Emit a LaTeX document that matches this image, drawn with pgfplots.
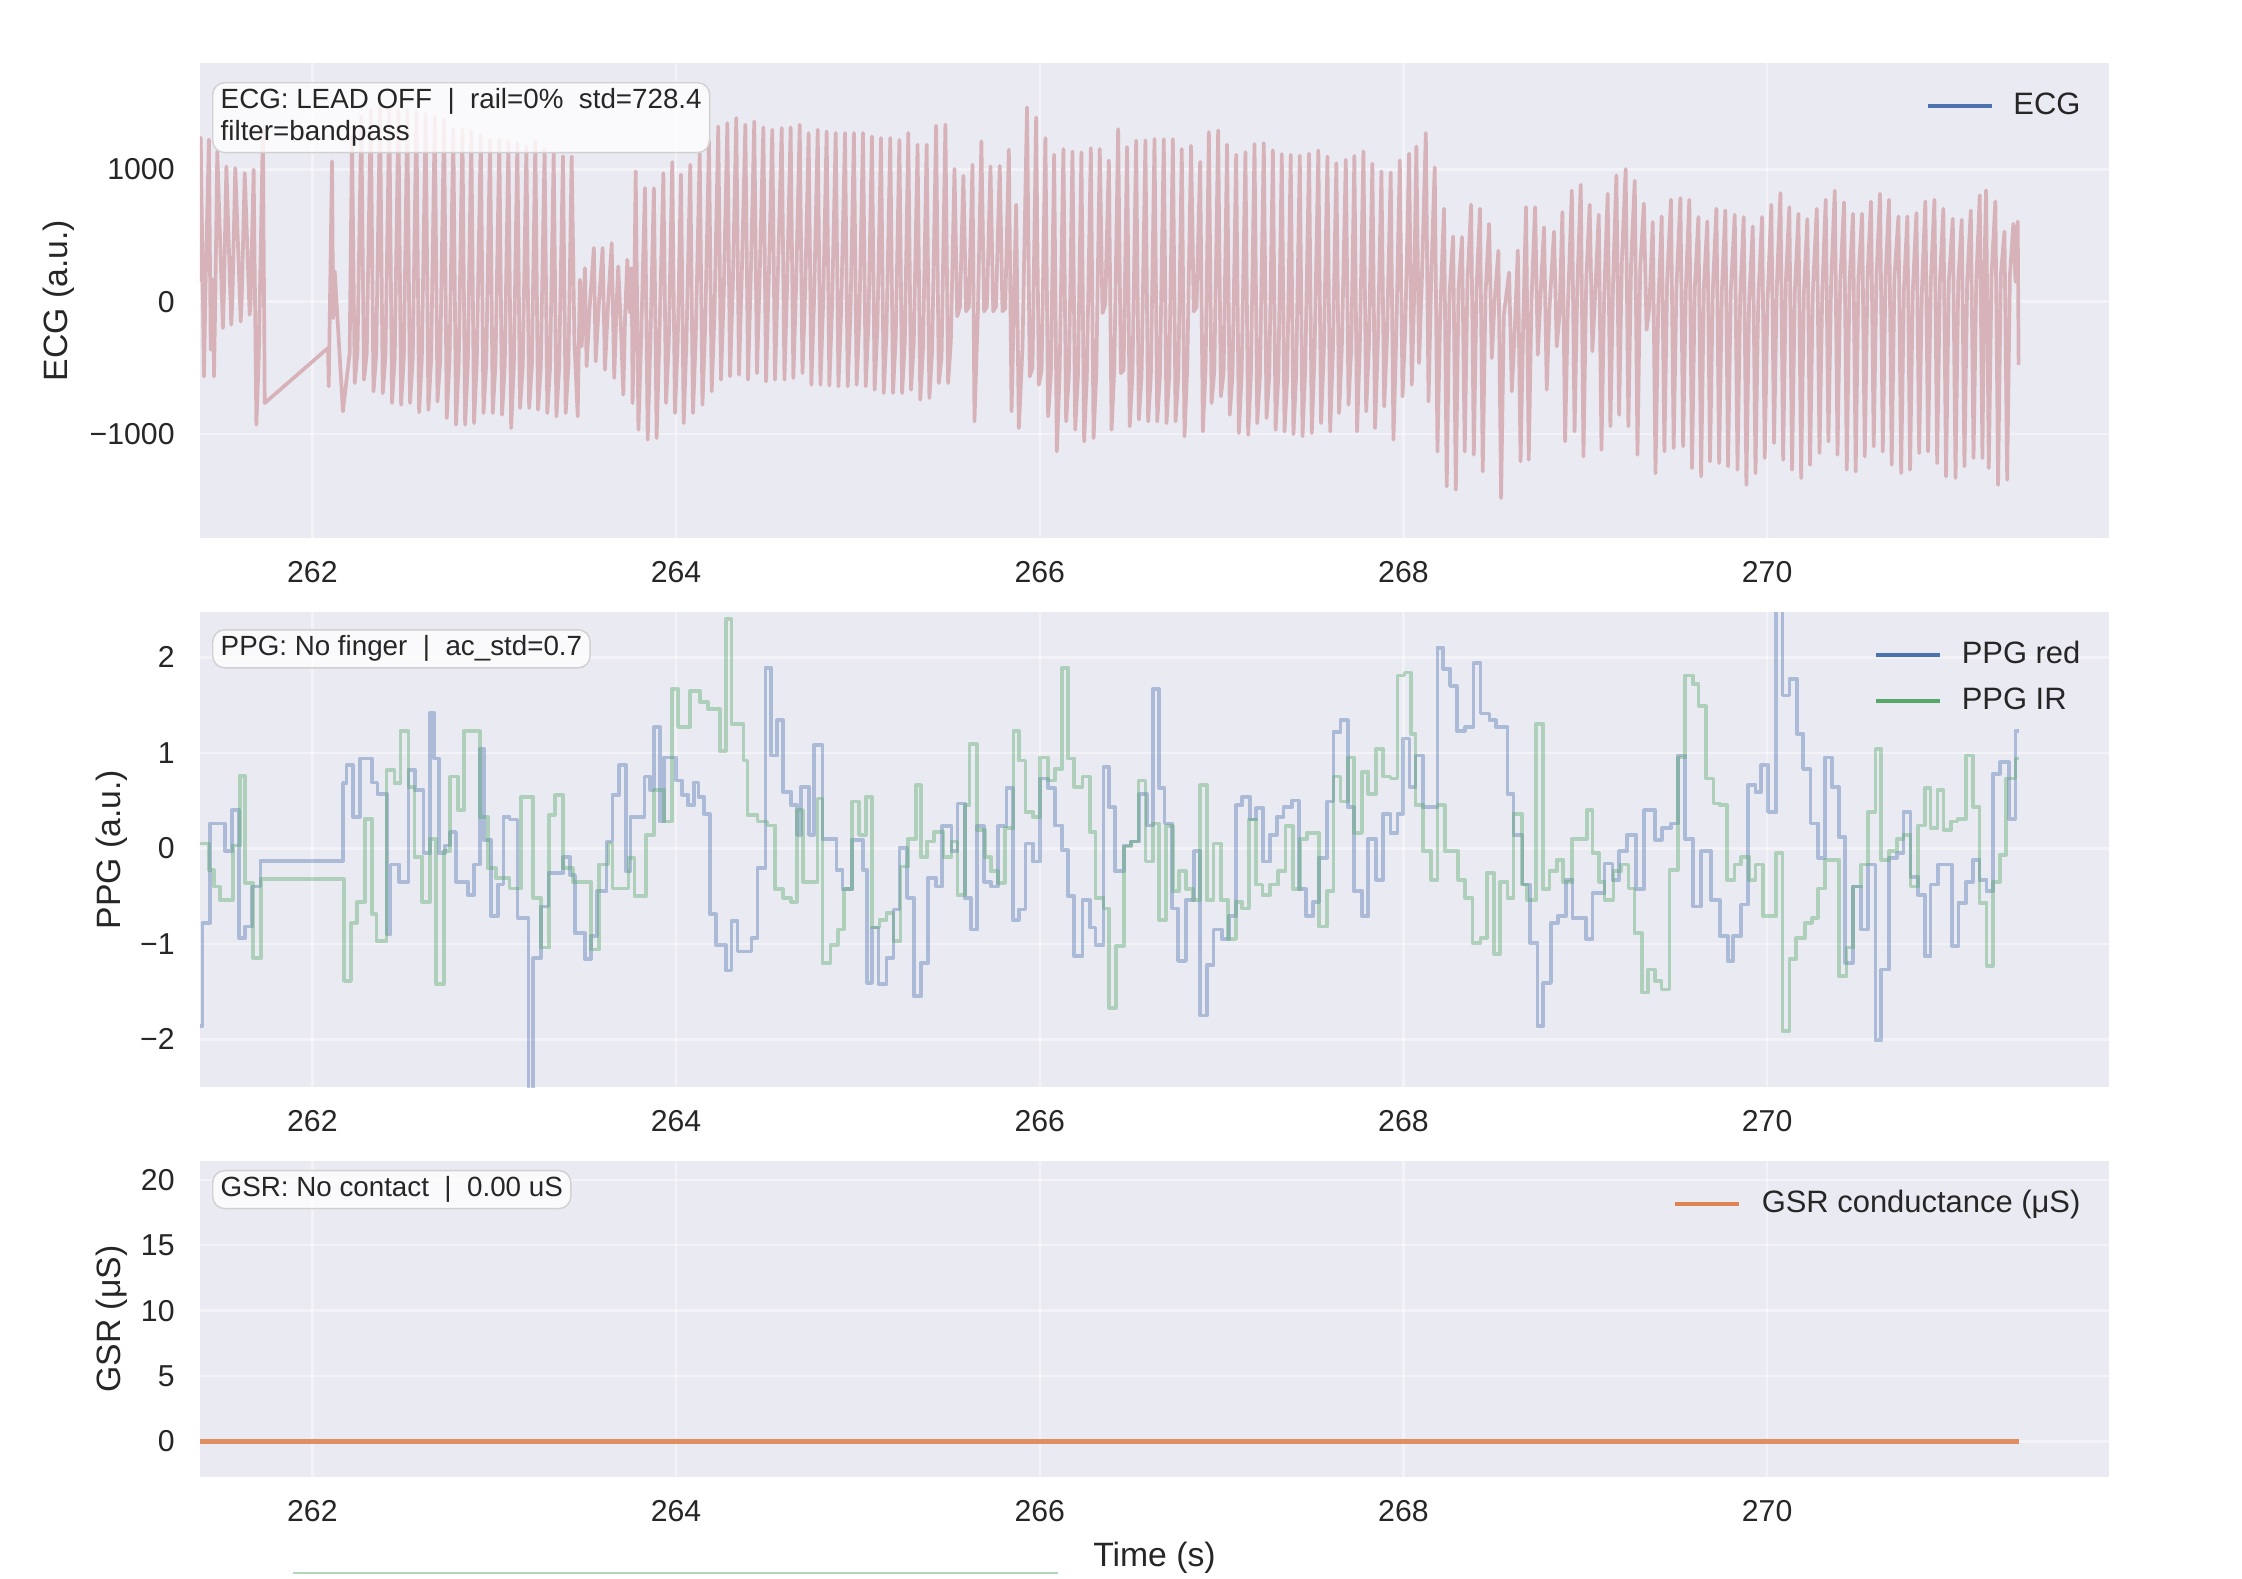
\documentclass[border=0pt]{standalone}
\usepackage{fontspec}
\setmainfont{Liberation Sans}
\usepackage{pgfplots}
\pgfplotsset{compat=1.18}
\definecolor{bgc}{HTML}{EAEAF2}
\definecolor{txt}{HTML}{262626}
\definecolor{sbblue}{HTML}{4C72B0}
\definecolor{sbgreen}{HTML}{55A868}
\definecolor{sborange}{HTML}{DD8452}
\definecolor{ecgc}{HTML}{D7B2B9}
\newcommand\tickfont{\fontsize{8.6}{10}\selectfont}
\newcommand\labfont{\fontsize{9.6}{11}\selectfont}
\newcommand\boxfont{\fontsize{7.9}{9.1}\selectfont}
\newcommand\legfont{\fontsize{8.8}{10}\selectfont}
\pgfplotsset{
 sbstyle/.style={
  scale only axis, width=19.09cm, anchor=south west,
  xmin=261.382, xmax=271.88,
  axis background/.style={fill=bgc},
  axis line style={draw=none},
  tick style={draw=none},
  major tick length=0pt,
  grid=major,
  major grid style={white, line width=0.7pt, opacity=0.45},
  xtick={262,264,266,268,270},
  xticklabels={262,264,266,268,270},
  xticklabel style={font=\tickfont, text=txt, yshift=-1.1mm},
  yticklabel style={font=\tickfont, text=txt, xshift=-1.3mm},
  label style={font=\labfont, text=txt},
  legend style={draw=none, fill=none, font=\legfont, text=txt, inner sep=0pt, column sep=1.5mm, row sep=0.7mm,
     nodes={inner sep=0.5mm, text height=2.3mm, text depth=0.6mm}},
  legend cell align=left,
  legend image code/.code={\draw[#1] (0mm,0mm) -- (6.4mm,0mm);},
 },
}
\tikzset{
 boxnode/.style={anchor=north west, fill=white, fill opacity=0.8, text opacity=1, draw=black!18,
   rounded corners=1.2mm, inner xsep=0.8mm, inner ysep=0.6mm, font=\boxfont, text=txt, align=left},
}
\begin{document}
\begin{tikzpicture}
\path[use as bounding box] (0,0) rectangle (22.42cm,-15.78cm);
% ---------------- ECG ----------------
\begin{axis}[sbstyle, at={(2cm,-5.38cm)}, height=4.75cm,
  ymin=-1786, ymax=1804,
  ytick={-1000,0,1000}, yticklabels={−1000,0,1000},
  ylabel={ECG (a.u.)}, ylabel style={at={(rel axis cs:-0.0739,0.5)}, anchor=center},
  legend style={at={(rel axis cs:0.988,0.952)}, anchor=north east}]
\addplot[ecgc, line width=1.05pt, line join=round, forget plot] coordinates {
(261.382,150) (261.386,1240) (261.404,-565) (261.412,80)
(261.431,1225) (261.441,-363) (261.454,170) (261.459,-565) (261.467,100)
(261.477,1136) (261.508,-200) (261.513,30)
(261.527,1023) (261.554,-174) (261.560,20)
(261.576,1010) (261.606,-149) (261.611,0)
(261.628,972) (261.655,-99) (261.660,-20)
(261.677,998) (261.692,-930) (261.705,-426)
(261.728,1300) (261.738,-766)
(262.086,-350) (262.090,-640) (262.108,1061) (262.114,-124) (262.123,229) (262.168,-829) (262.205,-388)
(262.218,1250) (262.233,-615) (262.248,-380)
(262.269,1400) (262.284,-590) (262.299,-390)
(262.321,1450) (262.336,-678) (262.351,-400)
(262.372,1470) (262.387,-691) (262.402,-410)
(262.423,1460) (262.438,-766) (262.453,-420)
(262.473,1450) (262.488,-779) (262.503,-420)
(262.522,1450) (262.537,-766) (262.552,-430)
(262.572,1440) (262.587,-837) (262.602,-430)
(262.623,1420) (262.638,-817) (262.653,-440)
(262.673,1400) (262.688,-754) (262.703,-440)
(262.724,1380) (262.739,-880) (262.754,-450)
(262.775,1310) (262.790,-930) (262.805,-450)
(262.825,1300) (262.840,-930) (262.855,-460)
(262.874,1290) (262.889,-918) (262.904,-460)
(262.926,1260) (262.941,-842) (262.956,-470)
(262.977,1225) (262.992,-842) (263.007,-470)
(263.028,1225) (263.043,-855) (263.058,-480)
(263.078,1210) (263.093,-955) (263.108,-480)
(263.127,1200) (263.142,-804) (263.157,-490)
(263.177,1175) (263.192,-804) (263.207,-490)
(263.226,1210) (263.241,-817) (263.256,-500)
(263.277,1150) (263.292,-842) (263.307,-500)
(263.327,1125) (263.342,-867) (263.357,-500)
(263.378,1100) (263.393,-842) (263.408,-480)
(263.426,1098) (263.441,-300) (263.459,-867)
(263.471,166) (263.481,-338) (263.490,-20)
(263.499,254) (263.508,-489) (263.525,-40)
(263.548,406) (263.558,-451) (263.575,-30)
(263.596,406) (263.609,-514) (263.625,-50)
(263.646,443) (263.660,-577) (263.672,-60)
(263.682,267) (263.697,-200) (263.710,-703) (263.720,-100)
(263.732,317) (263.745,-80)
(263.756,254) (263.761,-766) (263.768,-200)
(263.778,985) (263.793,-968) (263.808,-280)
(263.829,859) (263.844,-1044) (263.859,-280)
(263.878,859) (263.893,-1031) (263.908,-290)
(263.930,972) (263.945,-766) (263.960,-300)
(263.979,1056) (263.994,-842) (264.009,-300)
(264.027,962) (264.042,-918) (264.057,-300)
(264.078,1035) (264.093,-842) (264.108,-280)
(264.130,1119) (264.145,-779) (264.160,-200)
(264.181,1212) (264.196,-678) (264.211,-100)
(264.232,1325) (264.247,-590) (264.262,50)
(264.282,1350) (264.297,-565) (264.312,120)
(264.331,1388) (264.346,-552) (264.361,180)
(264.381,1338) (264.396,-590) (264.411,200)
(264.430,1363) (264.445,-540) (264.460,200)
(264.480,1318) (264.495,-603) (264.510,180)
(264.529,1300) (264.544,-590) (264.559,160)
(264.581,1313) (264.596,-590) (264.611,150)
(264.630,1318) (264.645,-577) (264.660,120)
(264.680,1338) (264.695,-540) (264.710,80)
(264.729,1275) (264.744,-628) (264.759,20)
(264.779,1300) (264.794,-628) (264.809,0)
(264.828,1287) (264.843,-635) (264.858,-30)
(264.878,1275) (264.893,-640) (264.908,-60)
(264.929,1275) (264.944,-640) (264.959,-100)
(264.978,1275) (264.993,-628) (265.008,-130)
(265.028,1275) (265.043,-640) (265.058,-160)
(265.077,1250) (265.092,-666) (265.107,-200)
(265.127,1237) (265.142,-691) (265.157,-240)
(265.178,1237) (265.193,-691) (265.208,-270)
(265.228,1224) (265.243,-691) (265.258,-300)
(265.277,1275) (265.292,-666) (265.307,-320)
(265.328,1187) (265.343,-741) (265.358,-350)
(265.378,1187) (265.393,-728) (265.408,-380)
(265.430,1330) (265.445,-615) (265.460,-420)
(265.481,1338) (265.496,-615) (265.511,-300)
(265.531,1003) (265.546,-111) (265.561,-40)
(265.580,952) (265.595,-73) (265.610,-40)
(265.630,1035) (265.641,-905) (265.660,-60)
(265.679,1212) (265.694,-73) (265.709,-40)
(265.729,1023) (265.744,-73) (265.759,-40)
(265.780,1028) (265.795,-73) (265.810,-50)
(265.830,1149) (265.845,-829) (265.855,-200)
(265.870,733) (265.885,-955) (265.905,-350)
(265.930,1469) (265.945,-565) (265.960,-500)
(265.980,1393) (265.995,-628) (266.010,-520)
(266.031,1237) (266.046,-867) (266.061,-540)
(266.079,1111) (266.094,-1132) (266.109,-550)
(266.130,1154) (266.145,-905) (266.160,-560)
(266.180,1136) (266.195,-968) (266.210,-560)
(266.229,1129) (266.244,-1056) (266.259,-560)
(266.281,1161) (266.296,-1031) (266.311,-540)
(266.330,1154) (266.345,-86) (266.360,-20)
(266.380,1068) (266.395,-968) (266.410,-500)
(266.431,1305) (266.446,-540) (266.461,-520)
(266.480,1169) (266.495,-943) (266.510,-540)
(266.530,1217) (266.545,-892) (266.560,-550)
(266.581,1219) (266.596,-905) (266.611,-560)
(266.631,1229) (266.646,-905) (266.661,-560)
(266.682,1229) (266.697,-918) (266.712,-560)
(266.732,1229) (266.747,-905) (266.762,-560)
(266.781,1154) (266.796,-1018) (266.811,-500)
(266.832,1179) (266.847,-73) (266.862,-40)
(266.882,1058) (266.897,-981) (266.912,-500)
(266.930,1282) (266.945,-766) (266.960,-520)
(266.981,1295) (266.996,-716) (267.011,-540)
(267.030,1187) (267.045,-855) (267.060,-550)
(267.080,1111) (267.095,-993) (267.110,-560)
(267.131,1131) (267.146,-1006) (267.161,-560)
(267.181,1192) (267.196,-918) (267.211,-560)
(267.232,1199) (267.247,-880) (267.262,-560)
(267.282,1144) (267.297,-968) (267.312,-560)
(267.331,1116) (267.346,-981) (267.361,-560)
(267.380,1111) (267.395,-1001) (267.410,-550)
(267.430,1103) (267.445,-1018) (267.460,-500)
(267.481,1119) (267.496,-993) (267.511,-400)
(267.532,1144) (267.547,-918) (267.562,-380)
(267.582,1098) (267.597,-981) (267.612,-380)
(267.631,1048) (267.646,-842) (267.661,-360)
(267.683,1073) (267.698,-779) (267.713,-350)
(267.730,1103) (267.745,-981) (267.760,-340)
(267.780,1136) (267.795,-829) (267.810,-330)
(267.829,1043) (267.844,-955) (267.859,-320)
(267.879,985) (267.894,-792) (267.909,-300)
(267.930,977) (267.945,-1044) (267.960,-280)
(267.980,1068) (267.995,-716) (268.010,-200)
(268.031,1119) (268.046,-628) (268.058,0)
(268.071,1174) (268.086,-464) (268.101,150)
(268.123,1275) (268.138,-754) (268.153,200)
(268.172,1015) (268.187,-1132) (268.202,-100)
(268.223,703) (268.238,-1396) (268.253,50)
(268.273,494) (268.288,-1422) (268.303,100)
(268.322,489) (268.337,-1132) (268.352,150)
(268.372,733) (268.387,-1157) (268.402,100)
(268.421,703) (268.436,-1283) (268.451,50)
(268.471,589) (268.486,-426) (268.501,0)
(268.522,385) (268.537,-1485) (268.552,-100)
(268.581,221) (268.596,-678) (268.611,-250)
(268.629,388) (268.644,-1207) (268.659,-150)
(268.674,715) (268.689,-1195) (268.704,0)
(268.724,715) (268.739,-401) (268.754,50)
(268.773,562) (268.788,-666) (268.803,-50)
(268.828,531) (268.843,-338) (268.858,-100)
(268.874,678) (268.889,-1056) (268.904,-50)
(268.926,839) (268.941,-981) (268.956,100)
(268.975,884) (268.990,-1170) (269.005,150)
(269.024,733) (269.039,-376) (269.054,50)
(269.074,657) (269.089,-1119) (269.104,50)
(269.123,816) (269.138,-943) (269.153,150)
(269.171,955) (269.186,-855) (269.201,300)
(269.222,1003) (269.237,-943) (269.252,300)
(269.272,914) (269.287,-1157) (269.302,250)
(269.322,741) (269.337,-212) (269.352,-50)
(269.371,602) (269.386,-1296) (269.401,-50)
(269.420,645) (269.435,-1132) (269.450,150)
(269.471,771) (269.486,-1107) (269.501,100)
(269.523,783) (269.538,-1094) (269.553,100)
(269.572,771) (269.587,-1258) (269.602,100)
(269.622,640) (269.637,-1321) (269.652,100)
(269.671,607) (269.686,-1207) (269.701,80)
(269.721,703) (269.736,-1220) (269.751,80)
(269.770,690) (269.785,-1245) (269.800,80)
(269.822,657) (269.837,-1270) (269.852,40)
(269.871,640) (269.886,-1384) (269.901,0)
(269.921,569) (269.936,-1296) (269.951,0)
(269.972,640) (269.987,-1182) (270.002,0)
(270.023,733) (270.038,-1069) (270.053,100)
(270.073,821) (270.088,-1195) (270.103,150)
(270.122,715) (270.137,-1270) (270.152,60)
(270.172,665) (270.187,-1333) (270.202,60)
(270.221,625) (270.236,-1233) (270.251,60)
(270.273,703) (270.288,-1144) (270.303,60)
(270.322,771) (270.337,-1056) (270.352,150)
(270.372,839) (270.387,-1157) (270.402,150)
(270.423,751) (270.438,-1270) (270.453,150)
(270.472,665) (270.487,-1283) (270.502,180)
(270.522,665) (270.537,-1170) (270.552,180)
(270.571,758) (270.586,-1094) (270.601,180)
(270.621,816) (270.636,-1132) (270.651,180)
(270.670,771) (270.685,-1233) (270.700,180)
(270.722,645) (270.737,-1296) (270.752,80)
(270.771,645) (270.786,-1270) (270.801,80)
(270.821,670) (270.836,-1144) (270.851,80)
(270.870,758) (270.885,-1132) (270.900,150)
(270.920,771) (270.935,-1220) (270.950,150)
(270.969,703) (270.984,-1321) (270.999,150)
(271.021,627) (271.036,-1333) (271.051,150)
(271.070,620) (271.085,-1245) (271.100,150)
(271.120,690) (271.135,-1182) (271.150,150)
(271.169,804) (271.184,-1182) (271.194,200)
(271.204,841) (271.219,-1258) (271.234,200)
(271.255,758) (271.270,-1384) (271.285,200)
(271.305,531) (271.320,-1346) (271.335,200)
(271.354,589) (271.366,150) (271.378,607) (271.383,-477)
};
\addlegendimage{sbblue, line width=1.05pt}
\addlegendentry{ECG}
\node[boxnode] at (rel axis cs:0.0063,0.96) {ECG: LEAD OFF\ \ |\ \ rail=0\%\ \ std=728.4\\filter=bandpass};
\end{axis}
% ---------------- PPG ----------------
\begin{axis}[sbstyle, at={(2cm,-10.87cm)}, height=4.75cm,
  ymin=-2.5, ymax=2.474,
  ytick={-2,-1,0,1,2}, yticklabels={−2,−1,0,1,2},
  ylabel={PPG (a.u.)}, ylabel style={at={(rel axis cs:-0.0461,0.5)}, anchor=center},
  legend style={at={(rel axis cs:0.988,0.952)}, anchor=north east}]
\addplot[const plot, sbblue, draw opacity=0.4, line width=1.05pt, line join=round, forget plot] coordinates {
(261.382,-1.86) (261.396,-0.78) (261.437,0.26) (261.518,-0.03) (261.557,0.40) (261.597,-0.94) (261.631,-0.82) (261.668,-0.40) (261.714,-0.13) (262.168,0.68) (262.188,0.87) (262.222,0.33) (262.262,0.94) (262.327,0.69) (262.358,0.57) (262.412,-0.90) (262.430,-0.17) (262.478,-0.35) (262.528,0.82) (262.565,0.61) (262.611,-0.05) (262.648,1.42) (262.670,0.94) (262.696,-0.05) (262.728,0.03) (262.757,0.17) (262.790,-0.35) (262.855,-0.49) (262.888,-0.17) (262.920,1.04) (262.942,0.09) (262.981,-0.71) (263.019,-0.38) (263.051,0.33) (263.084,0.30) (263.128,-0.73) (263.189,-2.70) (263.215,-1.15) (263.258,-0.61) (263.298,-0.26) (263.378,-0.09) (263.418,-0.28) (263.444,-0.89) (263.498,-1.16) (263.531,-0.92) (263.564,-0.45) (263.618,0.07) (263.651,0.56) (263.688,0.87) (263.723,-0.24) (263.749,0.33) (263.826,0.75) (263.858,0.61) (263.880,1.27) (263.913,0.28) (263.935,0.95) (264.000,0.71) (264.033,0.56) (264.065,0.45) (264.098,0.69) (264.124,0.54) (264.153,0.36) (264.185,-0.69) (264.218,-1.01) (264.273,-1.28) (264.305,-0.76) (264.338,-1.08) (264.414,-0.94) (264.447,-0.21) (264.491,1.89) (264.523,0.97) (264.556,1.34) (264.589,0.59) (264.632,0.45) (264.665,0.14) (264.687,0.64) (264.731,0.14) (264.757,1.08) (264.805,0.10) (264.883,-0.23) (264.916,-0.43) (264.966,0.09) (265.028,-0.23) (265.051,-1.41) (265.077,-0.83) (265.113,-1.42) (265.158,-1.15) (265.196,-0.64) (265.229,0.00) (265.270,-0.52) (265.308,-1.55) (265.346,-1.20) (265.386,-0.31) (265.430,-0.40) (265.464,0.23) (265.515,-0.03) (265.547,0.47) (265.587,-0.52) (265.620,-0.85) (265.654,0.23) (265.694,-0.35) (265.732,-0.40) (265.770,0.23) (265.817,0.63) (265.851,-0.75) (265.884,-0.64) (265.922,0.05) (265.962,-0.14) (266.000,0.73) (266.045,0.63) (266.083,0.24) (266.123,-0.02) (266.156,-0.50) (266.190,-1.13) (266.235,-0.54) (266.275,-0.83) (266.306,-1.01) (266.351,0.85) (266.380,0.43) (266.413,-0.24) (266.465,0.03) (266.503,0.07) (266.547,0.57) (266.588,0.24) (266.621,1.67) (266.655,0.63) (266.686,0.26) (266.726,-0.63) (266.760,-1.18) (266.804,-0.54) (266.849,-0.03) (266.883,-1.75) (266.918,-1.22) (266.956,-0.85) (267.001,-0.95) (267.039,-0.71) (267.079,0.45) (267.113,0.54) (267.158,0.30) (267.191,0.42) (267.229,-0.14) (267.267,0.14) (267.303,0.33) (267.341,0.43) (267.386,0.50) (267.424,-0.43) (267.464,-0.71) (267.504,-0.56) (267.535,-0.10) (267.580,0.49) (267.616,1.22) (267.654,1.34) (267.694,0.43) (267.727,-0.45) (267.772,-0.71) (267.806,0.10) (267.850,-0.33) (267.888,0.36) (267.929,0.16) (267.967,0.36) (267.996,1.15) (268.034,0.64) (268.067,0.97) (268.107,0.43) (268.187,2.10) (268.219,1.88) (268.256,1.70) (268.293,1.23) (268.338,1.27) (268.385,1.94) (268.424,1.41) (268.473,1.34) (268.508,1.27) (268.572,0.57) (268.606,0.14) (268.655,-0.38) (268.695,-0.99) (268.737,-1.86) (268.769,-1.41) (268.811,-0.78) (268.848,-0.71) (268.892,-0.33) (268.929,-0.73) (269.003,-0.95) (269.040,-0.47) (269.106,-0.16) (269.150,-0.33) (269.187,-0.03) (269.229,0.14) (269.279,-0.43) (269.323,0.40) (269.384,0.09) (269.421,0.21) (269.471,0.26) (269.508,0.97) (269.550,0.10) (269.591,-0.61) (269.636,-0.03) (269.692,-0.54) (269.739,-0.92) (269.784,-1.18) (269.813,-0.92) (269.857,-0.59) (269.894,0.66) (269.936,0.59) (269.968,0.87) (270.005,0.38) (270.050,2.60) (270.084,1.60) (270.123,1.77) (270.165,1.20) (270.197,0.83) (270.239,0.26) (270.281,-0.10) (270.320,0.95) (270.355,0.64) (270.394,0.12) (270.429,-1.20) (270.473,-0.40) (270.517,-0.85) (270.554,-0.17) (270.596,-2.01) (270.628,-1.27) (270.670,-0.10) (270.714,-0.05) (270.749,0.38) (270.788,-0.30) (270.830,-0.49) (270.867,-1.13) (270.899,-0.38) (270.941,-0.17) (271.015,-1.02) (271.052,-0.57) (271.094,-0.35) (271.133,-0.12) (271.168,-0.33) (271.207,-0.45) (271.242,0.78) (271.281,0.90) (271.330,0.31) (271.365,1.23) (271.384,1.23)
};
\addplot[const plot, sbgreen, draw opacity=0.4, line width=1.05pt, line join=round, forget plot] coordinates {
(261.382,0.05) (261.433,-0.23) (261.459,-0.40) (261.492,-0.54) (261.564,0.03) (261.601,0.76) (261.629,-0.36) (261.673,-1.15) (261.716,-0.32) (262.174,-1.39) (262.212,-0.78) (262.244,-0.56) (262.288,0.31) (262.327,-0.69) (262.353,-0.97) (262.408,0.82) (262.451,0.68) (262.484,1.23) (262.528,0.64) (262.561,-0.09) (262.604,-0.56) (262.648,0.10) (262.680,-1.42) (262.724,-0.03) (262.757,0.75) (262.800,0.40) (262.833,1.23) (262.920,0.33) (262.964,-0.21) (263.008,-0.31) (263.084,-0.42) (263.149,0.54) (263.215,-0.52) (263.258,-1.04) (263.302,0.35) (263.335,0.56) (263.378,-0.21) (263.433,-0.35) (263.531,-1.06) (263.575,-0.17) (263.629,0.05) (263.651,-0.42) (263.738,-0.10) (263.771,-0.50) (263.836,0.14) (263.880,0.61) (263.935,0.28) (263.978,1.67) (264.011,1.27) (264.076,1.65) (264.131,1.53) (264.174,1.46) (264.240,1.02) (264.273,2.40) (264.305,1.30) (264.371,0.92) (264.393,0.35) (264.447,0.28) (264.502,0.24) (264.545,-0.43) (264.589,-0.52) (264.632,-0.56) (264.665,0.40) (264.698,-0.35) (264.778,0.52) (264.805,-1.20) (264.849,-1.01) (264.890,-0.85) (264.923,-0.43) (264.966,0.49) (265.006,0.14) (265.046,0.54) (265.077,-0.83) (265.118,-0.75) (265.158,-0.68) (265.196,-0.97) (265.234,-0.19) (265.274,0.10) (265.319,0.66) (265.346,-0.09) (265.381,0.07) (265.419,0.17) (265.471,-0.09) (265.515,0.07) (265.547,-0.49) (265.587,0.45) (265.614,1.09) (265.654,0.19) (265.699,-0.09) (265.732,-0.24) (265.770,-0.36) (265.810,0.21) (265.855,1.23) (265.884,0.92) (265.922,0.38) (265.962,0.33) (266.000,0.95) (266.045,0.71) (266.083,0.83) (266.123,1.89) (266.156,0.94) (266.190,0.64) (266.235,0.75) (266.275,0.17) (266.306,-0.52) (266.351,-0.63) (266.380,-1.67) (266.420,-1.02) (266.465,0.02) (266.503,0.07) (266.543,0.71) (266.581,-0.14) (266.621,0.26) (266.655,-0.75) (266.693,0.23) (266.731,-0.45) (266.767,-0.24) (266.804,-0.43) (266.843,-0.54) (266.883,0.66) (266.918,-0.54) (266.956,0.05) (266.995,-0.54) (267.035,-0.95) (267.079,-0.56) (267.113,-0.63) (267.151,0.30) (267.191,-0.38) (267.225,-0.49) (267.267,-0.38) (267.312,-0.24) (267.352,0.23) (267.392,-0.43) (267.430,0.10) (267.468,0.16) (267.535,-0.82) (267.580,-0.45) (267.616,0.75) (267.654,0.49) (267.694,0.95) (267.727,0.16) (267.772,0.80) (267.806,0.57) (267.850,1.04) (267.888,0.75) (267.929,0.73) (267.967,1.81) (268.005,1.84) (268.041,1.20) (268.067,0.45) (268.107,-0.03) (268.152,-0.33) (268.187,0.45) (268.227,-0.03) (268.301,-0.33) (268.338,-0.52) (268.380,-0.99) (268.424,-0.94) (268.458,-0.26) (268.498,-1.11) (268.532,-0.35) (268.572,-0.52) (268.606,0.36) (268.651,-0.38) (268.680,-0.54) (268.729,1.30) (268.769,-0.43) (268.803,-0.24) (268.843,-0.12) (268.877,-0.35) (268.926,0.10) (269.008,0.40) (269.040,-0.05) (269.074,-0.35) (269.106,-0.54) (269.155,-0.24) (269.197,-0.17) (269.237,-0.42) (269.271,-0.89) (269.311,-1.51) (269.345,-1.27) (269.384,-1.39) (269.419,-1.48) (269.463,-0.23) (269.508,0.95) (269.550,1.81) (269.591,1.72) (269.623,1.49) (269.665,0.73) (269.705,0.47) (269.739,0.45) (269.779,-0.33) (269.820,-0.17) (269.857,-0.09) (269.902,-0.33) (269.936,-0.17) (269.976,-0.71) (270.050,-0.05) (270.084,-1.91) (270.123,-1.16) (270.160,-0.94) (270.207,-0.78) (270.246,-0.73) (270.281,-0.42) (270.320,-0.12) (270.394,-1.34) (270.436,-1.04) (270.473,-0.40) (270.517,-0.17) (270.554,0.38) (270.596,1.04) (270.628,-0.12) (270.670,-0.03) (270.714,0.10) (270.749,0.14) (270.788,-0.40) (270.830,0.24) (270.867,0.63) (270.899,0.21) (270.936,0.61) (270.970,0.19) (271.010,0.28) (271.047,0.31) (271.094,0.97) (271.133,0.43) (271.168,-0.57) (271.207,-1.23) (271.242,-0.35) (271.281,-0.07) (271.315,0.73) (271.365,0.94) (271.384,0.94)
};
\addlegendimage{sbblue, line width=1.05pt}
\addlegendentry{PPG red}
\addlegendimage{sbgreen, line width=1.05pt}
\addlegendentry{PPG IR}
\node[boxnode] at (rel axis cs:0.0063,0.964) {PPG: No finger\ \ |\ \ ac\_std=0.7};
\end{axis}
% ---------------- GSR ----------------
\begin{axis}[sbstyle, at={(2cm,-14.77cm)}, height=3.16cm,
  ymin=-2.72, ymax=21.44,
  ytick={0,5,10,15,20}, yticklabels={0,5,10,15,20},
  ylabel={GSR (μS)}, ylabel style={at={(rel axis cs:-0.0461,0.5)}, anchor=center},
  xlabel={Time (s)}, xlabel style={at={(rel axis cs:0.5,0)}, anchor=center, yshift=-8.1mm},
  legend style={at={(rel axis cs:0.988,0.928)}, anchor=north east}]
\addplot[sborange, draw opacity=0.9, line width=1.3pt, forget plot] coordinates {(261.382,0) (271.384,0)};
\addlegendimage{sborange, line width=1.4pt}
\addlegendentry{GSR conductance (μS)}
\node[boxnode] at (rel axis cs:0.0063,0.972) {GSR: No contact\ \ |\ \ 0.00 uS};
\end{axis}
\draw[sbgreen!45, line width=0.6pt] (2.93cm,-15.73cm) -- (10.58cm,-15.73cm);
\end{tikzpicture}
\end{document}
